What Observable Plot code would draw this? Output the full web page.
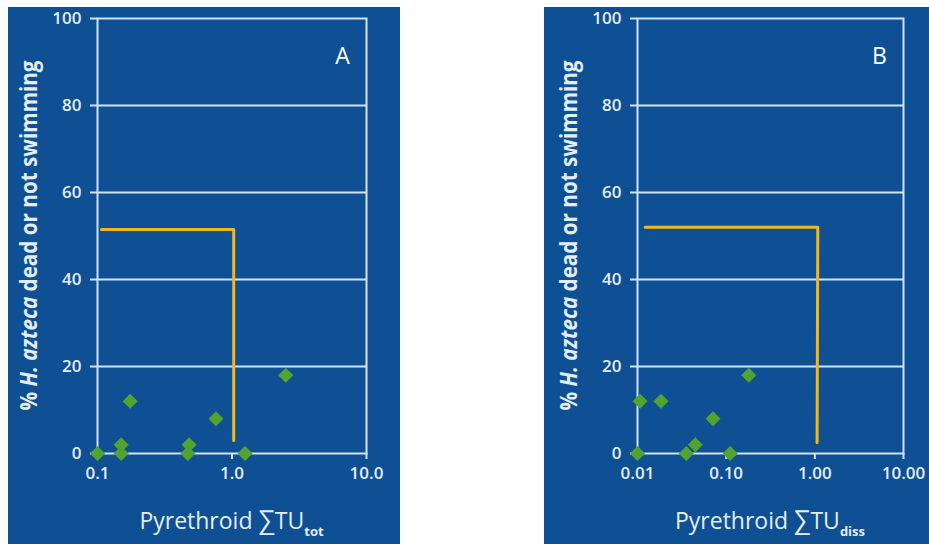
<!DOCTYPE html>
<html><head><meta charset="utf-8">
<script src="https://cdn.jsdelivr.net/npm/d3@7"></script>
<script src="https://cdn.jsdelivr.net/npm/@observablehq/plot@0.6"></script>
<style>
body{margin:0;background:#fff;width:929px;height:544px;position:relative;overflow:hidden;font-family:"Open Sans",sans-serif}
.panel{position:absolute;top:7px}
.panel g[aria-label$="tick label"]{font-size:17px !important;font-weight:600;font-family:"Open Sans",sans-serif}
.panel g[aria-label$="tick label"] text{font-size:17px !important}
</style></head><body>
<div id="a" class="panel" style="left:8px"></div>
<div id="b" class="panel" style="left:544px"></div>
<script>
// ---- data ----
const yTicks = [0, 20, 40, 60, 80, 100];
const xTicksA = [0.1, 1, 10];
const xTickLabelsA = ["0.1", "1.0", "10.0"];
const xTicksB = [0.01, 0.1, 1, 10];
const xTickLabelsB = ["0.01", "0.10", "1.00", "10.00"];

const tuTotA = [0.1, 0.15, 0.15, 0.175, 0.48, 0.47, 0.76, 1.25, 2.51];
const pctA   = [0,   2,    0,    12,    2,    0,    8,    0,    18];

const tuDissB = [0.01, 0.0107, 0.0184, 0.0355, 0.0449, 0.0711, 0.111, 0.18];
const pctB    = [0,    12,     12,     0,      2,      8,      0,     18];

const thrAx = [0.107, 1.03, 1.03];
const thrAy = [51.5, 51.5, 3];
const thrBx = [0.0122, 1.08, 1.06];
const thrBy = [52, 52, 2.5];

const panelLabels = ["A", "B"];
const yTitle = ["% ", "H. azteca", " dead or not swimming"];
const xTitleMain = "Pyrethroid ";
const xSigma = "\u2211";
const xTU = "TU";
const xSubs = ["tot", "diss"];

// ---- styling ----
const BG = "#0f4f94", FG = "#e4eef2", GRID = "#d4e3f5", ORANGE = "#f7b614", GREEN = "#52a32f";

function panel(el, o) {
  const pts = o.xs.map((x, i) => ({x, y: o.ys[i]}));
  const thr = o.tx.map((x, i) => ({x, y: o.ty[i]}));
  const labelOf = new Map(o.xTicks.map((t, i) => [t, o.xLabels[i]]));
  const chart = Plot.plot({
    width: o.width, height: 537,
    marginTop: 11, marginBottom: o.mb, marginLeft: o.ml, marginRight: o.mr,
    style: {background: BG, color: FG, fontFamily: "'Open Sans', sans-serif", fontSize: "17px", fontWeight: 600},
    x: {type: "log", domain: [o.xTicks[0], o.xTicks[o.xTicks.length - 1]]},
    y: {domain: [0, 100]},
    marks: [
      Plot.gridY(yTicks.slice(1, -1), {stroke: GRID, strokeOpacity: 1, strokeWidth: 2}),
      Plot.frame({stroke: GRID, strokeWidth: 2}),
      Plot.axisY({ticks: yTicks, tickSize: 7, tickPadding: 9, label: null, stroke: GRID, strokeWidth: 2, strokeOpacity: 1}),
      Plot.axisX({ticks: o.xTicks, tickFormat: (d) => labelOf.get(d) ?? String(d), tickSize: 6, tickPadding: 7, label: null, stroke: GRID, strokeWidth: 2, strokeOpacity: 1}),
      Plot.line(thr, {x: "x", y: "y", stroke: ORANGE, strokeWidth: 3}),
      Plot.dot(pts, {x: "x", y: "y", symbol: "diamond2", r: 6.8, fill: GREEN, stroke: "none"}),
      Plot.text([o.tag], {frameAnchor: "top-right", dx: -24, dy: 38, textAnchor: "middle", lineAnchor: "middle", fill: "#ffffff", fontSize: 23, fontWeight: 400})
    ]
  });
  const svg = d3.select(chart);
  const xr = chart.scale("x").range, yr = chart.scale("y").range;
  const cx = (xr[0] + xr[1]) / 2, cy = (yr[0] + yr[1]) / 2;
  // y title
  const yt = svg.append("text")
    .attr("transform", `translate(${o.ml - 60},${cy}) rotate(-90)`)
    .attr("text-anchor", "middle").attr("fill", FG)
    .attr("textLength", 350).attr("lengthAdjust", "spacingAndGlyphs")
    .style("font-size", "24px").style("font-weight", 700).style("font-family", "'Open Sans', sans-serif");
  yt.append("tspan").text(yTitle[0]);
  yt.append("tspan").style("font-style", "italic").text(yTitle[1]);
  yt.append("tspan").text(yTitle[2]);
  // x title
  const xt = svg.append("text")
    .attr("x", cx).attr("y", yr[0] + 75.5)
    .attr("text-anchor", "middle").attr("fill", FG)
    .style("font-size", "23px").style("font-weight", 500).style("font-family", "'Open Sans', sans-serif");
  xt.append("tspan").text(xTitleMain);
  xt.append("tspan").style("font-size", "26px").text(xSigma);
  xt.append("tspan").text(xTU);
  xt.append("tspan").attr("dy", 7).style("font-size", "13px").style("font-weight", 700).text(o.sub);
  el.appendChild(chart);
}

panel(document.getElementById("a"), {width: 392, ml: 89, mr: 34, mb: 91, xs: tuTotA, ys: pctA, tx: thrAx, ty: thrAy, xTicks: xTicksA, xLabels: xTickLabelsA, tag: panelLabels[0], sub: xSubs[0]});
panel(document.getElementById("b"), {width: 385, ml: 93, mr: 26, mb: 91, xs: tuDissB, ys: pctB, tx: thrBx, ty: thrBy, xTicks: xTicksB, xLabels: xTickLabelsB, tag: panelLabels[1], sub: xSubs[1]});
</script>
</body></html>
